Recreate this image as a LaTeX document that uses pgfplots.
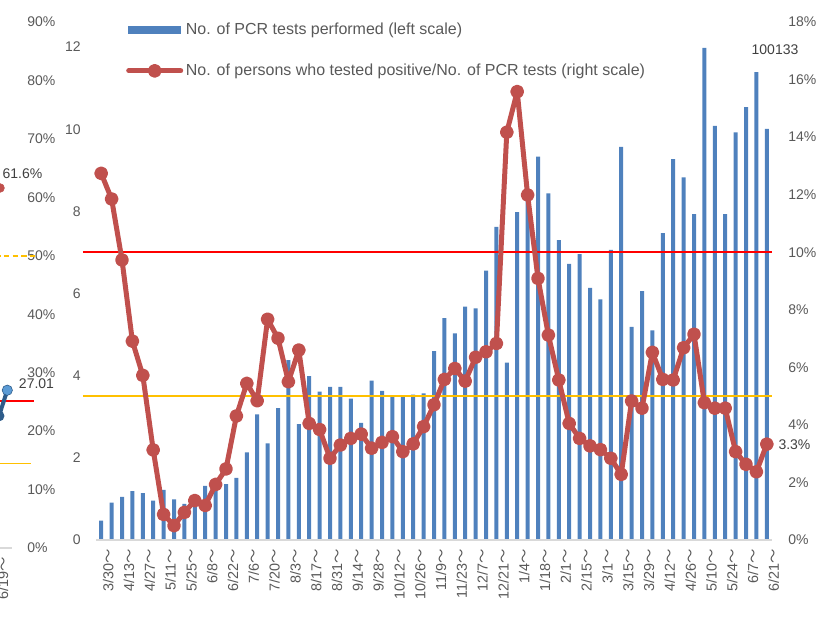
\documentclass[border=0pt]{standalone}
\usepackage{pgfplots}
\pgfplotsset{compat=1.18}
\usepackage{fontspec}
\setmainfont{Liberation Sans}
\newfontfamily\cjk{Noto Sans CJK JP}
\newcommand\wv{{\cjk ～}}
\definecolor{barblue}{HTML}{4F81BD}
\definecolor{lred}{HTML}{C0504D}
\definecolor{tgray}{HTML}{595959}
\definecolor{dgray}{HTML}{404040}
\definecolor{hred}{HTML}{FF0000}
\definecolor{hyel}{HTML}{FFC000}
\definecolor{bgray}{HTML}{D9D9D9}
\definecolor{dblue}{HTML}{2E5C8A}
\definecolor{lblue}{HTML}{5B9BD5}
\pgfplotsset{
  base/.style={scale only axis, anchor=south west, clip=false,
    axis line style={draw=none}, tick style={draw=none}, major tick length=0pt,
    tick label style={font=\fontsize{10.5}{12}\selectfont, text=tgray, inner sep=0pt}},
}
\begin{document}
\begin{tikzpicture}
\path[use as bounding box] (0pt,0pt) rectangle (624.75pt,465pt);
% fragment of a neighbouring chart on the left
\begin{axis}[base, at={(-75pt,54pt)}, width=85.5pt, height=394.5pt,
  xmin=-100, xmax=14, ymin=0, ymax=90,
  ytick={0,10,20,30,40,50,60,70,80,90},
  yticklabels={0\%,10\%,20\%,30\%,40\%,50\%,60\%,70\%,80\%,90\%},
  yticklabel pos=right,
  y tick label style={anchor=west, xshift=9.75pt},
  xtick={-4}, xticklabels={6/19\wv},
  x tick label style={xshift=5.25pt, yshift=-6.75pt, rotate=90, anchor=east, font=\fontsize{10.8}{12}\selectfont}]
\draw[bgray, line width=1.5pt] (axis cs:-100,0) -- (axis cs:12,0);
\draw[hyel, line width=1.1pt, dash pattern=on 4pt off 2.5pt] (axis cs:-100,50) -- (axis cs:37,50);
\draw[hred, line width=1.1pt] (axis cs:-100,25.15) -- (axis cs:34,25.15);
\draw[hyel, line width=1.1pt] (axis cs:-100,14.5) -- (axis cs:31,14.5);
\addplot[lred, only marks, mark=*, mark size=3.3pt] coordinates {(0,61.6)};
\node[font=\fontsize{10.5}{12}\selectfont, text=dgray] at (axis cs:22.5,64.0) {61.6\%};
\addplot[dblue, line width=3pt, mark=*, mark size=2.5pt] coordinates {(-8,20.5) (-1,22.6) (7.3,27.0)};
\addplot[lblue, only marks, mark=*, mark size=3.3pt] coordinates {(7.3,27.0)};
\node[font=\fontsize{10.5}{12}\selectfont, text=dgray] at (axis cs:36.5,28.06) {27.01};
\end{axis}
% bars, left scale
\begin{axis}[base, at={(72pt,60pt)}, width=507pt, height=388.5pt,
  xmin=-0.5, xmax=64.5, ymin=0, ymax=12.61,
  ytick={0,2,4,6,8,10,12}, yticklabels={0,2,4,6,8,10,12},
  y tick label style={anchor=east, xshift=-11.25pt},
  xtick={0,2,...,64},
  xticklabels={3/30\wv,4/13\wv,4/27\wv,5/11\wv,5/25\wv,6/8\wv,6/22\wv,7/6\wv,7/20\wv,8/3\wv,8/17\wv,8/31\wv,9/14\wv,9/28\wv,10/12\wv,10/26\wv,11/9\wv,11/23\wv,12/7\wv,12/21\wv,1/4\wv,1/18\wv,2/1\wv,2/15\wv,3/1\wv,3/15\wv,3/29\wv,4/12\wv,4/26\wv,5/10\wv,5/24\wv,6/7\wv,6/21\wv},
  x tick label style={xshift=5.25pt, yshift=-6.75pt, rotate=90, anchor=east, font=\fontsize{10.8}{12}\selectfont}]
\addplot[ybar, bar width=3pt, bar shift=0pt, fill=barblue, draw=none] coordinates {
(0,0.47) (1,0.91) (2,1.05) (3,1.19) (4,1.14) (5,0.96) (6,1.22) (7,0.99) (8,0.88) (9,1.09)
(10,1.32) (11,1.24) (12,1.36) (13,1.51) (14,2.13) (15,3.06) (16,2.35) (17,3.21) (18,4.38) (19,2.82)
(20,3.99) (21,3.61) (22,3.73) (23,3.73) (24,3.44) (25,2.85) (26,3.88) (27,3.63) (28,3.51) (29,3.51)
(30,3.54) (31,3.57) (32,4.60) (33,5.40) (34,5.03) (35,5.68) (36,5.64) (37,6.56) (38,7.62) (39,4.32)
(40,7.98) (41,8.40) (42,9.33) (43,8.44) (44,7.30) (45,6.72) (46,6.96) (47,6.14) (48,5.86) (49,7.06)
(50,9.57) (51,5.19) (52,6.06) (53,5.10) (54,7.47) (55,9.27) (56,8.83) (57,7.93) (58,11.98) (59,10.08)
(60,7.93) (61,9.92) (62,10.54) (63,11.39) (64,10.01)};
\draw[bgray, line width=1.5pt] (axis cs:-0.5,0) -- (axis cs:64.5,0);
\node[font=\fontsize{10.5}{12}\selectfont, text=dgray] at (axis cs:64.79,11.93) {100133};
\end{axis}
% positivity rate, right scale
\begin{axis}[base, at={(72pt,60pt)}, width=507pt, height=388.5pt,
  xmin=-0.5, xmax=64.5, ymin=0, ymax=18,
  xtick=\empty,
  yticklabel pos=right,
  ytick={0,2,4,6,8,10,12,14,16,18},
  yticklabels={0\%,2\%,4\%,6\%,8\%,10\%,12\%,14\%,16\%,18\%},
  y tick label style={anchor=west, xshift=12pt},
  legend style={at={(0.0443,1.0035)}, anchor=north west, draw=none, fill=none,
    font=\fontsize{12}{14}\selectfont, text=tgray, inner xsep=0pt, inner ysep=0pt,
    row sep=16.5pt, cells={anchor=west}}]
\draw[hred, line width=1.2pt] (axis cs:-1.75,10) -- (axis cs:64.5,10);
\draw[hyel, line width=1.2pt] (axis cs:-1.75,5) -- (axis cs:64.5,5);
\addlegendimage{legend image code/.code={\fill[barblue] (0pt,-2.6pt) rectangle (39pt,2.6pt);}}
\addlegendentry{No. of PCR tests performed (left scale)}
\addplot[lred, line width=3.75pt, line join=round, mark=*, mark size=3.3pt,
  legend image code/.code={\draw[lred, line width=3.75pt, line cap=round] (0pt,0pt) -- (39pt,0pt); \fill[lred] (19.5pt,0pt) circle (3.3pt);}]
coordinates {
(0,12.74) (1,11.85) (2,9.73) (3,6.91) (4,5.72) (5,3.13) (6,0.89) (7,0.50) (8,0.96) (9,1.37)
(10,1.20) (11,1.93) (12,2.47) (13,4.31) (14,5.44) (15,4.84) (16,7.67) (17,7.01) (18,5.50) (19,6.60)
(20,4.05) (21,3.84) (22,2.84) (23,3.30) (24,3.53) (25,3.68) (26,3.19) (27,3.39) (28,3.59) (29,3.07)
(30,3.34) (31,3.94) (32,4.70) (33,5.58) (34,5.96) (35,5.52) (36,6.35) (37,6.54) (38,6.83) (39,14.17)
(40,15.58) (41,11.99) (42,9.09) (43,7.12) (44,5.56) (45,4.05) (46,3.53) (47,3.27) (48,3.14) (49,2.84)
(50,2.28) (51,4.83) (52,4.58) (53,6.52) (54,5.58) (55,5.56) (56,6.68) (57,7.15) (58,4.77) (59,4.58)
(60,4.58) (61,3.07) (62,2.63) (63,2.37) (64,3.33)};
\addlegendentry{No. of persons who tested positive/No. of PCR tests (right scale)}
\node[font=\fontsize{10.5}{12}\selectfont, text=dgray] at (axis cs:66.66,3.3) {3.3\%};
\end{axis}
\end{tikzpicture}
\end{document}
